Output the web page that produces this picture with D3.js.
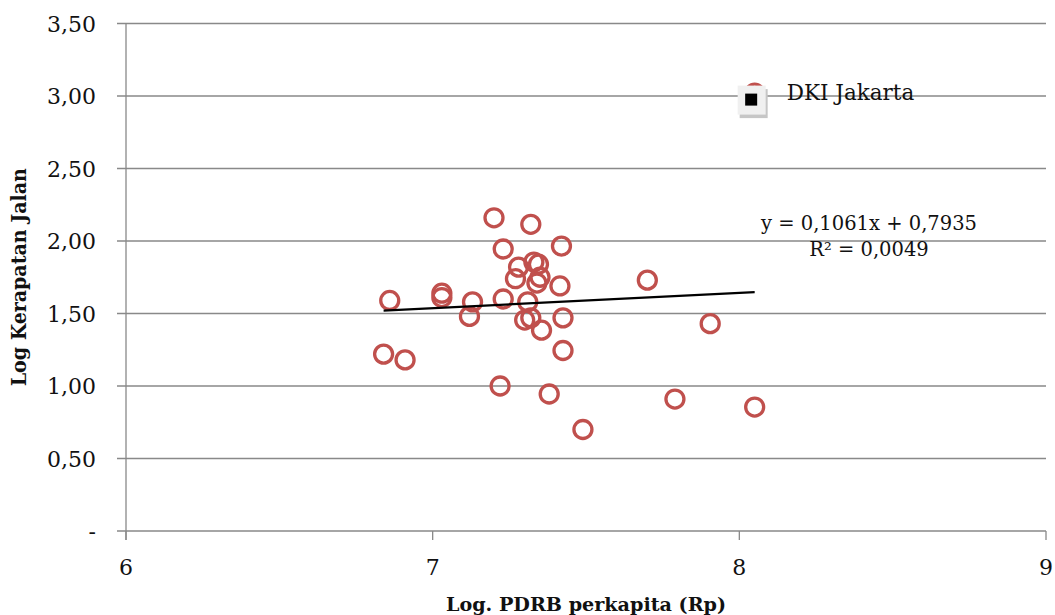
<!DOCTYPE html>
<html>
<head>
<meta charset="utf-8">
<script src="https://cdn.jsdelivr.net/npm/d3@7"></script>
<style>
  body { margin: 0; background: #fff; }
  svg { display: block; }
</style>
</head>
<body>
<svg width="1055" height="615"></svg>
<script>
// Log PDRB perkapita (x) vs Log Kerapatan Jalan (y), one point per province
const pdrb = [6.84, 6.86, 6.91, 7.03, 7.03, 7.12, 7.13, 7.20, 7.22, 7.23, 7.23,
              7.27, 7.28, 7.30, 7.31, 7.32, 7.32, 7.33, 7.345, 7.34, 7.35, 7.355,
              7.38, 7.42, 7.415, 7.425, 7.425, 7.49, 7.70, 7.79, 7.905, 8.05, 8.05];
const kerapatan = [1.22, 1.59, 1.18, 1.64, 1.61, 1.48, 1.58, 2.16, 1.00, 1.945, 1.60,
                   1.74, 1.82, 1.455, 1.58, 1.47, 2.115, 1.855, 1.84, 1.71, 1.75, 1.385,
                   0.945, 1.965, 1.69, 1.47, 1.245, 0.70, 1.73, 0.91, 1.43, 0.855, 3.02];
const pointLabel = { index: 32, text: "DKI Jakarta" };

const trendSlope = 0.1061;
const trendIntercept = 0.7935;
const trendText = ["y = 0,1061x + 0,7935", "R² = 0,0049"];

const xTicks = [6, 7, 8, 9];
const yTicks = [0, 0.5, 1, 1.5, 2, 2.5, 3, 3.5];
const yTickLabels = ["-", "0,50", "1,00", "1,50", "2,00", "2,50", "3,00", "3,50"];

const xTitle = "Log. PDRB perkapita (Rp)";
const yTitle = "Log Kerapatan Jalan";

const data = pdrb.map((d, i) => ({ x: d, y: kerapatan[i] }));

const svg = d3.select("svg");
const serif = "'DejaVu Serif', 'Liberation Serif', serif";
const gridColor = "#898989";

const x = d3.scaleLinear().domain([6, 9]).range([126, 1046]);
const y = d3.scaleLinear().domain([0, 3.5]).range([531, 23.5]);

// horizontal gridlines (with tick stubs on the left)
svg.selectAll("line.grid")
    .data(yTicks)
    .enter()
    .append("line")
    .attr("class", "grid")
    .attr("x1", 117)
    .attr("x2", x(9))
    .attr("y1", d => y(d))
    .attr("y2", d => y(d))
    .attr("stroke", gridColor)
    .attr("stroke-width", 1.3);

// y axis line
svg.append("line")
    .attr("x1", x(6)).attr("x2", x(6))
    .attr("y1", y(3.5)).attr("y2", y(0) + 9)
    .attr("stroke", gridColor)
    .attr("stroke-width", 1.3);

// x ticks
svg.selectAll("line.xtick")
    .data(xTicks)
    .enter()
    .append("line")
    .attr("class", "xtick")
    .attr("x1", d => x(d))
    .attr("x2", d => x(d))
    .attr("y1", y(0))
    .attr("y2", y(0) + 9)
    .attr("stroke", gridColor)
    .attr("stroke-width", 1.3);

// y tick labels
svg.selectAll("text.ylab")
    .data(yTicks)
    .enter()
    .append("text")
    .attr("class", "ylab")
    .attr("x", 96)
    .attr("y", d => y(d) + 8)
    .attr("text-anchor", "end")
    .attr("font-family", serif)
    .attr("font-size", "22px")
    .attr("fill", "#111")
    .text((d, i) => yTickLabels[i]);

// x tick labels
svg.selectAll("text.xlab")
    .data(xTicks)
    .enter()
    .append("text")
    .attr("class", "xlab")
    .attr("x", d => x(d))
    .attr("y", 575)
    .attr("text-anchor", "middle")
    .attr("font-family", serif)
    .attr("font-size", "22px")
    .attr("fill", "#111")
    .text(d => d);

// axis titles
svg.append("text")
    .attr("x", (x(6) + x(9)) / 2)
    .attr("y", 611)
    .attr("text-anchor", "middle")
    .attr("font-family", serif)
    .attr("font-weight", "bold")
    .attr("font-size", "19px")
    .attr("textLength", 280)
    .attr("lengthAdjust", "spacingAndGlyphs")
    .attr("fill", "#111")
    .text(xTitle);

svg.append("text")
    .attr("transform", `translate(26,${(y(0) + y(3.5)) / 2}) rotate(-90)`)
    .attr("text-anchor", "middle")
    .attr("font-family", serif)
    .attr("font-weight", "bold")
    .attr("font-size", "20px")
    .attr("textLength", 218)
    .attr("lengthAdjust", "spacingAndGlyphs")
    .attr("fill", "#111")
    .text(yTitle);

// points
svg.selectAll("circle")
    .data(data)
    .enter()
    .append("circle")
    .attr("cx", d => x(d.x))
    .attr("cy", d => y(d.y))
    .attr("r", 9)
    .attr("fill", "none")
    .attr("stroke", "#C0504D")
    .attr("stroke-width", 3.3);

// linear trendline over the x range of the data
const xExt = d3.extent(data, d => d.x);
svg.append("line")
    .attr("x1", x(xExt[0]))
    .attr("y1", y(trendSlope * xExt[0] + trendIntercept))
    .attr("x2", x(xExt[1]))
    .attr("y2", y(trendSlope * xExt[1] + trendIntercept))
    .attr("stroke", "#000")
    .attr("stroke-width", 2.2);

svg.selectAll("text.trend")
    .data(trendText)
    .enter()
    .append("text")
    .attr("class", "trend")
    .attr("x", 869)
    .attr("y", (d, i) => 230 + i * 26)
    .attr("text-anchor", "middle")
    .attr("font-family", serif)
    .attr("font-size", "19.5px")
    .attr("fill", "#111")
    .text(d => d);

// data label for DKI Jakarta with its legend key box
const lp = data[pointLabel.index];
const px = x(lp.x), py = y(lp.y);
svg.append("rect")
    .attr("x", px - 15).attr("y", py - 4)
    .attr("width", 28).attr("height", 29)
    .attr("fill", "#c6c6c6");
svg.append("rect")
    .attr("x", px - 17).attr("y", py - 7.5)
    .attr("width", 28).attr("height", 29)
    .attr("fill", "#f0f0f0");
svg.append("rect")
    .attr("x", px - 9.5).attr("y", py + 0.5)
    .attr("width", 12).attr("height", 12)
    .attr("fill", "#000");
svg.append("text")
    .attr("x", px + 32)
    .attr("y", py + 6.5)
    .attr("font-family", serif)
    .attr("font-size", "21.5px")
    .attr("fill", "#111")
    .text(pointLabel.text);
</script>
</body>
</html>
